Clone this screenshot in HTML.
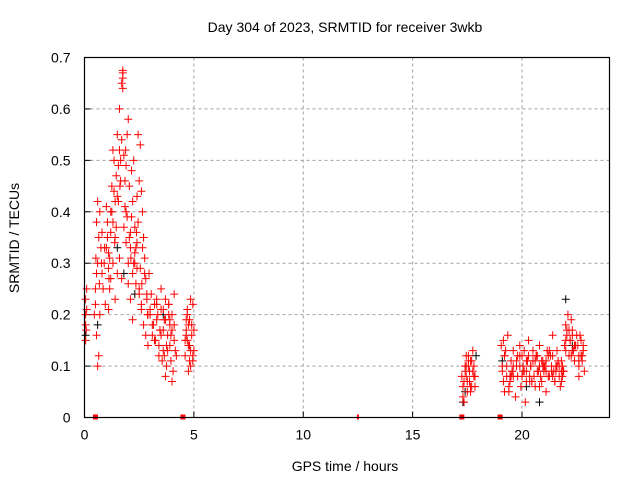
<!DOCTYPE html>
<html><head><meta charset="utf-8"><style>
body{margin:0;background:#fff;width:640px;height:480px;overflow:hidden}
svg{font-family:"Liberation Sans",sans-serif}
</style></head><body>
<svg id="c" width="640" height="480" xmlns="http://www.w3.org/2000/svg"></svg>
<script>
const xTicks=[0,5,10,15,20];
const yTicks=[0,0.1,0.2,0.3,0.4,0.5,0.6,0.7];
const yTickLabels=["0","0.1","0.2","0.3","0.4","0.5","0.6","0.7"];
const redHours=[0.05,0.05,0.1,0.05,0.1,0.05,0.08,
0.45,0.5,0.55,0.6,0.5,0.65,0.55,0.7,0.6,0.75,0.8,0.7,0.65,0.85,0.6,0.55,0.9,0.8,0.95,
1.0,1.05,1.1,1.0,1.15,1.2,1.1,1.25,1.3,1.2,1.35,1.4,1.3,1.45,1.5,1.4,1.55,1.6,1.5,1.65,1.7,1.6,1.75,1.75,1.75,1.75,1.8,1.7,1.85,1.9,1.8,1.95,2.0,1.9,2.05,2.1,2.0,2.15,2.2,2.1,2.25,2.3,2.2,2.35,2.4,2.3,2.45,2.5,2.4,2.55,2.6,2.5,2.65,2.7,2.6,2.75,2.8,2.7,2.85,2.9,1.2,1.4,1.6,2.0,2.2,2.4,2.6,1.3,1.5,1.7,1.9,2.1,2.3,2.5,2.7,2.9,1.1,2.8,
3.0,3.1,3.2,3.3,3.4,3.5,3.6,3.7,3.8,3.9,4.0,4.1,4.2,3.05,3.15,3.25,3.35,3.45,3.55,3.65,3.75,3.85,3.95,4.05,4.15,3.5,3.6,3.7,3.8,3.9,4.0,3.3,3.4,4.1,3.2,2.95,3.0,3.6,3.75,3.85,3.95,4.0,4.1,
4.6,4.65,4.7,4.75,4.8,4.85,4.9,4.95,5.0,4.7,4.8,4.9,4.6,4.75,4.85,5.0,4.65,4.95,4.7,4.8,
17.25,17.3,17.4,17.45,17.5,17.6,17.65,17.7,17.8,17.85,17.35,17.55,17.75,17.5,17.6,17.4,17.7,17.3,17.55,17.8,17.45,17.65,
19.05,19.1,19.15,19.2,19.3,19.35,19.4,19.5,19.55,19.6,19.7,19.75,19.8,19.9,19.95,20.0,20.1,20.15,20.2,20.3,20.35,20.4,20.5,20.55,20.6,20.7,20.75,20.8,20.9,20.95,21.0,21.1,21.15,21.2,21.3,21.35,21.4,21.5,21.55,21.6,21.7,21.75,21.8,21.9,21.95,22.0,22.05,22.1,22.15,22.2,22.3,22.35,22.4,22.5,22.55,22.6,22.7,22.75,22.8,22.85,
19.1,19.25,19.4,19.6,19.8,20.0,20.2,20.4,20.6,20.8,21.0,21.2,21.4,21.6,21.8,22.0,22.2,22.4,22.6,22.8,19.2,19.5,19.9,20.3,20.7,21.1,21.5,21.9,22.3,22.7,19.15,19.45,20.05,20.25,20.45,20.65,20.85,21.05,21.25,21.45,21.65,21.85,22.05,22.25,22.45,22.65,
1.05,1.15,1.25,1.35,1.45,1.55,1.65,1.85,1.95,2.05,2.15,2.25,2.35,2.45,2.55,2.65,2.75,2.85,1.12,1.38,1.62,1.88,2.12,2.38,2.62,2.88,0.52,0.68,0.78,0.92,
3.1,3.3,3.5,3.7,3.9,3.45,3.65,3.85,4.65,4.85,4.75,4.95,
17.35,17.55,17.75,17.45,17.65,17.85,
19.3,19.6,19.9,20.2,20.5,20.8,21.1,21.4,21.7,22.0,22.3,22.6,19.45,19.75,20.05,20.35,20.65,20.95,21.25,21.55,21.85,22.15,22.45,22.75,19.2,19.55,20.1,20.45,20.9,21.35,21.8,22.25,22.6];
const redValues=[0.15,0.18,0.21,0.23,0.25,0.2,0.17,
0.2,0.25,0.28,0.3,0.22,0.35,0.38,0.4,0.42,0.33,0.28,0.2,0.12,0.25,0.1,0.16,0.3,0.36,0.22,
0.33,0.38,0.29,0.41,0.25,0.36,0.21,0.45,0.3,0.4,0.5,0.42,0.52,0.47,0.55,0.35,0.49,0.52,0.28,0.46,0.65,0.6,0.64,0.67,0.675,0.66,0.51,0.54,0.41,0.49,0.37,0.55,0.58,0.4,0.45,0.33,0.3,0.48,0.42,0.36,0.5,0.37,0.28,0.26,0.43,0.32,0.55,0.46,0.34,0.53,0.44,0.25,0.4,0.35,0.22,0.31,0.27,0.18,0.24,0.2,0.27,0.23,0.31,0.26,0.19,0.29,0.21,0.38,0.43,0.27,0.34,0.23,0.3,0.24,0.35,0.14,0.32,0.16,
0.2,0.16,0.22,0.19,0.14,0.21,0.17,0.23,0.13,0.18,0.2,0.15,0.12,0.24,0.18,0.15,0.2,0.17,0.11,0.19,0.14,0.22,0.16,0.09,0.13,0.25,0.21,0.08,0.16,0.19,0.07,0.23,0.12,0.18,0.15,0.28,0.21,0.13,0.1,0.22,0.11,0.17,0.24,
0.12,0.17,0.21,0.14,0.19,0.1,0.16,0.22,0.13,0.2,0.11,0.18,0.15,0.09,0.23,0.17,0.19,0.12,0.15,0.14,
0.08,0.06,0.1,0.12,0.07,0.09,0.05,0.11,0.08,0.06,0.03,0.1,0.13,0.05,0.07,0.09,0.06,0.04,0.12,0.1,0.08,0.11,
0.14,0.1,0.07,0.12,0.08,0.16,0.05,0.11,0.09,0.13,0.04,0.1,0.08,0.14,0.06,0.12,0.09,0.03,0.11,0.15,0.07,0.1,0.13,0.08,0.06,0.12,0.09,0.14,0.07,0.11,0.1,0.05,0.13,0.08,0.12,0.09,0.16,0.07,0.1,0.13,0.08,0.06,0.11,0.09,0.14,0.18,0.16,0.2,0.12,0.15,0.17,0.13,0.11,0.16,0.14,0.1,0.15,0.12,0.14,0.09,
0.09,0.13,0.06,0.1,0.12,0.08,0.07,0.1,0.11,0.06,0.09,0.12,0.08,0.1,0.07,0.13,0.15,0.14,0.11,0.13,0.05,0.08,0.1,0.12,0.09,0.11,0.07,0.09,0.16,0.12,0.15,0.07,0.09,0.11,0.07,0.12,0.08,0.1,0.13,0.09,0.11,0.08,0.17,0.19,0.14,0.16,
0.35,0.31,0.4,0.44,0.37,0.42,0.5,0.46,0.39,0.35,0.39,0.3,0.33,0.38,0.29,0.33,0.28,0.23,0.27,0.34,0.45,0.52,0.31,0.36,0.26,0.2,0.31,0.26,0.3,0.33,
0.18,0.22,0.16,0.19,0.14,0.17,0.12,0.2,0.16,0.13,0.18,0.11,
0.07,0.11,0.09,0.1,0.06,0.08,
0.1,0.08,0.12,0.09,0.11,0.1,0.09,0.12,0.1,0.15,0.13,0.12,0.08,0.11,0.1,0.08,0.12,0.1,0.08,0.09,0.1,0.17,0.14,0.11,0.12,0.09,0.13,0.07,0.11,0.1,0.09,0.12,0.08,0.1,0.14,0.13,0.15];
const blackHours=[0.05,0.6,1.5,1.8,2.3,3.2,3.6,17.4,17.9,19.1,20.2,20.8,22.0,22.3,17.3];
const blackValues=[0.16,0.18,0.33,0.28,0.24,0.22,0.2,0.05,0.12,0.11,0.06,0.03,0.23,0.14,0.03];
const markerHours=[0.5,4.5,12.5,17.25,19.0];

const L=84.5,R=609.5,T=57.5,B=417.5;
const X=h=>L+(h/24)*(R-L);
const Y=v=>B-(v/0.7)*(B-T);
const svg=document.getElementById('c');
const NS='http://www.w3.org/2000/svg';
function mk(t,a,p){const e=document.createElementNS(NS,t);for(const k in a)e.setAttribute(k,a[k]);(p||svg).appendChild(e);return e;}

const title=mk('text',{x:345,y:32,'text-anchor':'middle','font-size':14,fill:'#000'});
title.textContent='Day 304 of 2023, SRMTID for receiver 3wkb';



const grid=mk('g',{stroke:'#a0a0a0','stroke-width':1,'stroke-dasharray':'3,3'});


xTicks.forEach(t=>{if(t>0)mk('line',{x1:X(t),x2:X(t),y1:T,y2:B},grid);});
yTicks.forEach(t=>{if(t>0&&t<0.7)mk('line',{x1:L,x2:R,y1:Y(t),y2:Y(t)},grid);});

const xa=mk('g',{'font-size':14,fill:'#000','text-anchor':'middle'});


xTicks.forEach(t=>{mk('line',{x1:X(t),x2:X(t),y1:B,y2:B-6,stroke:'#000'},xa);const tx=mk('text',{x:X(t),y:B+22},xa);tx.textContent=String(t);});
const ya=mk('g',{'font-size':14,fill:'#000','text-anchor':'end'});


yTicks.forEach((t,i)=>{mk('line',{x1:L,x2:L+6,y1:Y(t),y2:Y(t),stroke:'#000'},ya);const tx=mk('text',{x:L-14,y:Y(t)+5},ya);tx.textContent=yTickLabels[i];});

const xl=mk('text',{x:345,y:471,'text-anchor':'middle','font-size':14,fill:'#000'});
xl.textContent='GPS time / hours';


const yl=mk('text',{x:19,y:238,'text-anchor':'middle','font-size':14,fill:'#000',transform:'rotate(-90 19 238)'});
yl.textContent='SRMTID / TECUs';



function plus(g,h,v){const x=X(h),y=Y(v);mk('path',{d:`M${x-4} ${y}H${x+4}M${x} ${y-4}V${y+4}`},g);}
const bg=mk('g',{stroke:'#000','stroke-width':1});


blackHours.forEach((h,i)=>plus(bg,h,blackValues[i]));
const rg=mk('g',{stroke:'#f00','stroke-width':1});


redHours.forEach((h,i)=>plus(rg,h,redValues[i]));

const mg=mk('g',{fill:'#f00'});


markerHours.forEach(h=>{const w=h===12.5?2:5;mk('rect',{x:X(h)-w/2,y:B-3,width:w,height:5},mg);});

const fr=mk('rect',{x:L,y:T,width:R-L,height:B-T,fill:'none',stroke:'#000','stroke-width':1.2});


</script>
</body></html>
